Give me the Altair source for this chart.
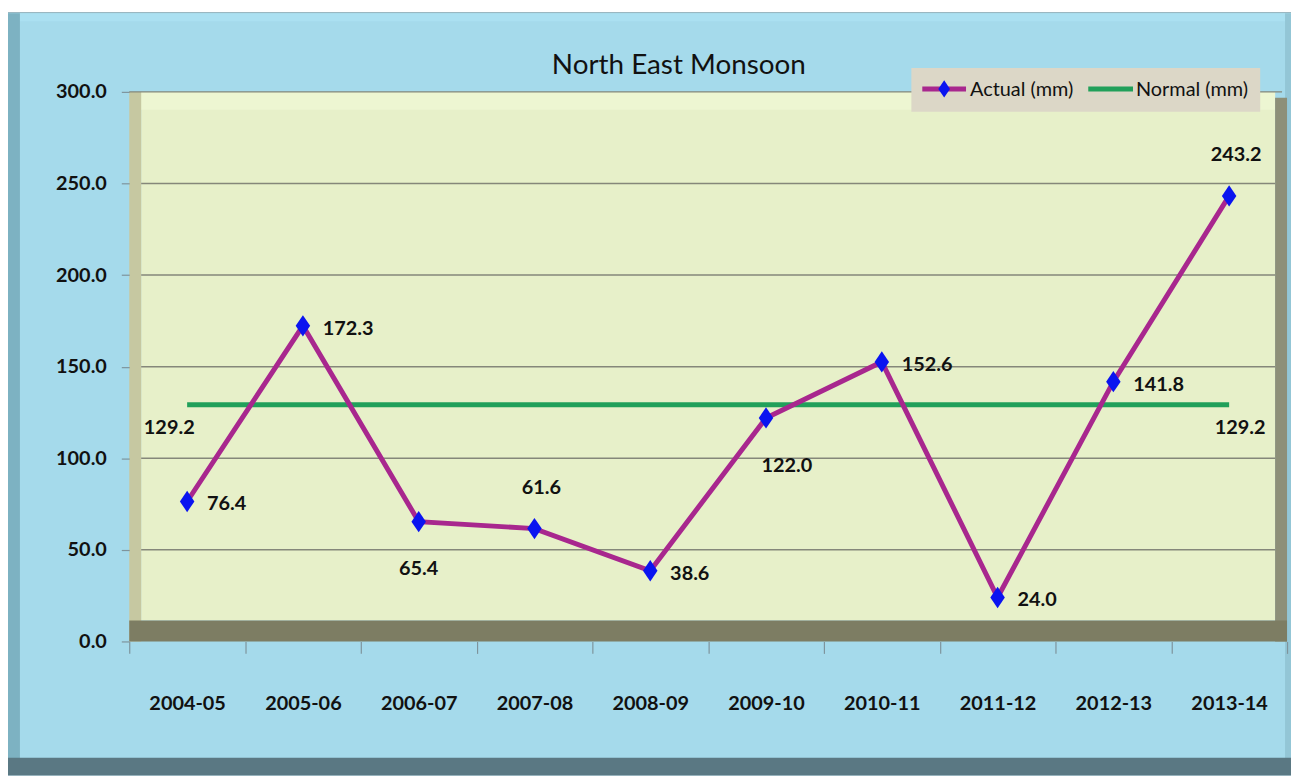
import altair as alt
import pandas as pd

# ---------------- data ----------------
SEASONS = ["2004-05", "2005-06", "2006-07", "2007-08", "2008-09",
           "2009-10", "2010-11", "2011-12", "2012-13", "2013-14"]
ACTUAL = [76.4, 172.3, 65.4, 61.6, 38.6, 122.0, 152.6, 24.0, 141.8, 243.2]
NORMAL = [129.2, 129.2, 129.2, 129.2, 129.2, 129.2, 129.2, 129.2, 129.2, 129.2]
Y_TICKS = [0, 50, 100, 150, 200, 250, 300]
GRID_VALUES = [50, 100, 150, 200, 250]
TITLE = "North East Monsoon"
SERIES = ["Actual (mm)", "Normal (mm)"]

# label placement groups
RIGHT = ["2004-05", "2005-06", "2008-09", "2010-11", "2011-12", "2012-13"]
BELOW_C = ["2006-07"]
BELOW_R = ["2009-10"]
ABOVE = ["2007-08", "2013-14"]
NORMAL_FIRST = [SEASONS[0]]
NORMAL_LAST = [SEASONS[-1]]

df = pd.DataFrame({"season": SEASONS, "actual": ACTUAL, "normal": NORMAL})
one = pd.DataFrame({"k": [0]})
grid_df = pd.DataFrame({"v": GRID_VALUES})
top_df = pd.DataFrame({"v": [300]})

W, H = 1165, 553
FONT = "Lato, DejaVu Sans Condensed, sans-serif"

MAGENTA = "#A8278E"
GREEN = "#21A05A"
BLUE = "#0A14F0"
DIAMOND = "M0,-1L0.68,0L0,1L-0.68,0Z"

x_scale = alt.Scale(domain=SEASONS, paddingInner=0, paddingOuter=0)
y_scale = alt.Scale(domain=[0, 300], nice=False, zero=True)

x_axis = alt.Axis(title=None, tickBand="extent", tickSize=12, tickColor="#7E949C",
                  tickWidth=1.2, domain=False, grid=False, labelAngle=0,
                  labelFont=FONT, labelFontSize=20, labelFontWeight="bold",
                  labelColor="#111111", labelPadding=40, zindex=1)
y_axis = alt.Axis(title=None, values=Y_TICKS, format=".1f", tickSize=8,
                  tickColor="#7E949C", tickWidth=1.2, domain=False, grid=False,
                  labelFont=FONT, labelFontSize=20, labelFontWeight="bold",
                  labelColor="#111111", labelPadding=15, zindex=1)


def X():
    return alt.X("season:N", sort=SEASONS, scale=x_scale, axis=x_axis)


def Yf(field):
    return alt.Y(field, type="quantitative", scale=y_scale, axis=y_axis)


def box(x, x2, y, y2, color):
    return alt.Chart(one).mark_rect(color=color, strokeWidth=0).encode(
        x=alt.value(x), x2=alt.value(x2), y=alt.value(y), y2=alt.value(y2))


# ---------------- decoration: chart frame and 3-D walls ----------------
frame = [
    box(-122, 1169, -80, 688, "#A5DAEB"),
    box(-122, 1169, -80, -79, "#8FA9B2"),
    box(-120, 1169, -79, -71, "#ABE0F1"),
    box(-122, -110, -79, 672, "#7DB2C2"),
    box(1163, 1169, -79, 672, "#93C6D6"),
    box(-122, 1169, 670, 688, "#5A7883"),
]
walls = [
    box(12, 1153, 0, 532, "#E7F0C9"),
    box(12, 1153, 0, 18, "#EDF6D2"),
    box(0, 12, 0, 553, "#C6C8A1"),
    box(1153, 1165, 6, 553, "#8D8F78"),
    box(0, 1165, 532, 553, "#7D7D63"),
]

grid = alt.Chart(grid_df).mark_rule(color="#85877A", strokeWidth=1.5).encode(
    y=Yf("v"), x=alt.value(12), x2=alt.value(1153))
top_line = alt.Chart(top_df).mark_rule(color="#85877A", strokeWidth=1.5).encode(
    y=Yf("v"), x=alt.value(0), x2=alt.value(1160))

# ---------------- series ----------------
normal_line = alt.Chart(df).mark_line(color=GREEN, strokeWidth=5).encode(
    x=X(), y=Yf("normal"))
actual_line = alt.Chart(df).mark_line(color=MAGENTA, strokeWidth=5).encode(
    x=X(), y=Yf("actual"))
points = alt.Chart(df).mark_point(
    shape=DIAMOND, filled=True, color=BLUE, size=460,
    opacity=1).encode(x=X(), y=Yf("actual"))


def labels(members, field, align, dx, dy):
    return alt.Chart(df).transform_filter(
        alt.FieldOneOfPredicate(field="season", oneOf=members)
    ).mark_text(font=FONT, fontSize=20, fontWeight="bold", color="#111111",
                align=align, baseline="middle", dx=dx, dy=dy).encode(
        x=X(), y=Yf(field), text=alt.Text(field, type="quantitative", format=".1f"))


label_layers = [
    labels(RIGHT, "actual", "left", 20, 3),
    labels(BELOW_C, "actual", "center", 0, 48),
    labels(BELOW_R, "actual", "center", 21, 48),
    labels(ABOVE, "actual", "center", 7, -41),
    labels(NORMAL_FIRST, "normal", "center", -18, 23),
    labels(NORMAL_LAST, "normal", "center", 11, 23),
]

# ---------------- title ----------------
title = alt.Chart(one).mark_text(font=FONT, fontSize=28, color="#111111",
                                 align="center", baseline="alphabetic").encode(
    x=alt.value(553), y=alt.value(-18), text=alt.value(TITLE))

# ---------------- legend ----------------
legend = [
    box(787, 1138, -24, 20, "#DCD7C7"),
    alt.Chart(one).mark_rule(color=MAGENTA, strokeWidth=5).encode(
        x=alt.value(798), x2=alt.value(842), y=alt.value(-3)),
    alt.Chart(one).mark_point(shape=DIAMOND, filled=True,
                              color=BLUE, size=300, opacity=1).encode(
        x=alt.value(820), y=alt.value(-3)),
    alt.Chart(one).mark_text(font=FONT, fontSize=20, color="#111111", align="left",
                             baseline="middle").encode(
        x=alt.value(846), y=alt.value(-2), text=alt.value(SERIES[0])),
    alt.Chart(one).mark_rule(color=GREEN, strokeWidth=5).encode(
        x=alt.value(965), x2=alt.value(1010), y=alt.value(-3)),
    alt.Chart(one).mark_text(font=FONT, fontSize=20, color="#111111", align="left",
                             baseline="middle").encode(
        x=alt.value(1013), y=alt.value(-2), text=alt.value(SERIES[1])),
]

chart = alt.layer(
    *frame, *walls, grid, top_line, normal_line, actual_line, points,
    *label_layers, title, *legend
).properties(
    width=W, height=H,
    autosize=alt.AutoSizeParams(type="none"),
    padding={"left": 122, "top": 82, "right": 4, "bottom": 135},
    background="white",
).configure_view(stroke=None)

chart.save("out.html", embed_options={"renderer": "svg", "actions": False})
